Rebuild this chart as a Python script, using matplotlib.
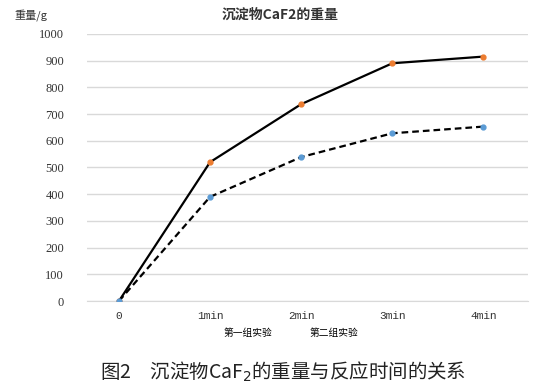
import matplotlib
matplotlib.use("Agg")
import matplotlib.pyplot as plt

plt.rcParams['font.family'] = ['Noto Sans CJK SC', 'DejaVu Sans']

categories = ["0", "1min", "2min", "3min", "4min"]
series1_name = "第一组实验"
series2_name = "第二组实验"
series1 = [0, 520, 737, 890, 915]
series2 = [0, 390, 539, 628, 653]
yticks = [0, 100, 200, 300, 400, 500, 600, 700, 800, 900, 1000]

fig = plt.figure(figsize=(5.34, 3.85), dpi=100)
ax = fig.add_axes([0.163, 0.218, 0.826, 0.694])

x = list(range(len(categories)))
l1, = ax.plot(x, series1, color="black", lw=1.6, marker="o", ms=3.5,
              mfc="#ED7D31", mec="#ED7D31", label=series1_name, zorder=3)
l2, = ax.plot(x, series2, color="black", lw=1.6, ls=(0, (3, 1.8)), marker="o", ms=3.5,
              mfc="#5B9BD5", mec="#5B9BD5", label=series2_name, zorder=3)

ax.set_ylim(0, 1000)
ax.set_xlim(-0.35, 4.49)
ax.set_yticks(yticks)
ax.set_yticklabels([str(v) for v in yticks], family=['Liberation Serif', 'DejaVu Serif'], fontsize=9, color="#333333")
ax.set_xticks(x)
ax.set_xticklabels(categories, family=['Liberation Mono', 'DejaVu Sans Mono'], fontsize=8, color="#333333")
ax.tick_params(length=0, pad=16.5, axis='y')
ax.tick_params(length=0, pad=7, axis='x')
ax.yaxis.grid(True, color="#d9d9d9", lw=1)
ax.set_axisbelow(True)
for s in ["top", "right", "left"]:
    ax.spines[s].set_visible(False)
ax.spines["bottom"].set_color("#d9d9d9")

fig.text(0.525, 0.962, "沉淀物CaF2的重量", ha="center", va="center", fontsize=10, fontweight="bold", color="#333333")
fig.text(0.028, 0.962, "重量/g", ha="left", va="center", fontsize=8, color="#333333")

leg = fig.legend(handles=[l1, l2], loc="center", bbox_to_anchor=(0.545, 0.135), ncol=2,
                 frameon=False, fontsize=7, handlelength=0, handletextpad=0, columnspacing=3.9)
for h in leg.legend_handles:
    h.set_visible(False)

fig.text(0.53, 0.035, "图2　沉淀物CaF$_2$的重量与反应时间的关系", ha="center", va="center",
         fontsize=14, color="#222222")

fig.savefig("out.png", dpi=100)
